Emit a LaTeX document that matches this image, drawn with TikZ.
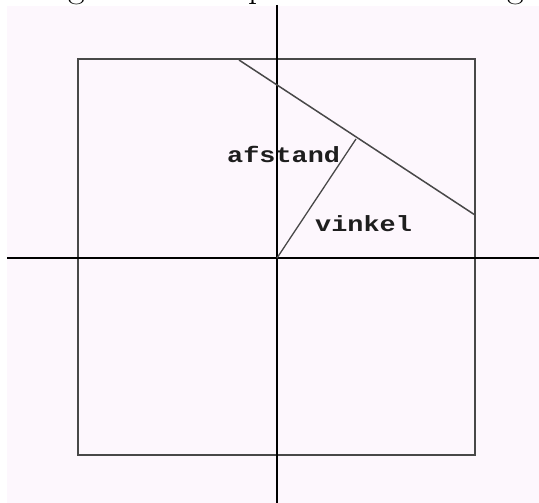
\documentclass[tikz,border=0pt]{standalone}
\usepackage{fontspec}
\newfontfamily\monof{Liberation Mono}
\definecolor{bgpink}{RGB}{253,247,253}
\definecolor{sqgray}{RGB}{72,72,72}
\definecolor{txtgray}{RGB}{30,30,30}
\begin{document}
\begin{tikzpicture}[x=1pt,y=-1pt,
  axis/.style={line width=1.6pt,draw=black},
  frame/.style={line width=2.2pt,draw=sqgray},
  seg/.style={line width=1.5pt,draw=sqgray},
  lbl/.style={font=\monof\bfseries\fontsize{22}{22}\selectfont,text=txtgray,inner sep=0pt,xscale=1.22,anchor=base west},
  frag/.style={font=\fontsize{36}{36}\selectfont,inner sep=0pt,anchor=base}]
\useasboundingbox (0,0) rectangle (539,503);
\fill[white] (0,0) rectangle (539,503);
\fill[bgpink] (7,6) rectangle (539,503);
\begin{scope}
  \clip (0,0) rectangle (539,6);
  \node[frag] (g1) at (77,-2) {g};
  \node[frag] (p1) at (258,-2) {p};
  \node[frag] (g2) at (516,-2) {g};
\end{scope}
% axes
\coordinate (vtop) at (277,5);
\coordinate (vbot) at (277,503);
\coordinate (hl) at (7,258);
\coordinate (hr) at (539,258);
\coordinate (O) at (277,258);
% square corners
\coordinate (s1) at (78,59);
\coordinate (s2) at (475,59);
\coordinate (s3) at (475,455);
\coordinate (s4) at (78,455);
% line
\coordinate (A) at (239,60);
\coordinate (B) at (475,215);
\coordinate (F) at (356,139);
\draw[frame] (s1) -- (s2) -- (s3) -- (s4) -- cycle;
\draw[axis] (vtop) -- (vbot);
\draw[axis] (hl) -- (hr);
\draw[seg] (A) -- (B);
\draw[seg,line width=1.3pt] (O) -- (F);
\node[lbl] (afstand) at (227,162) {afstand};
\node[lbl] (vinkel) at (315,231) {vinkel};
\end{tikzpicture}
\end{document}
